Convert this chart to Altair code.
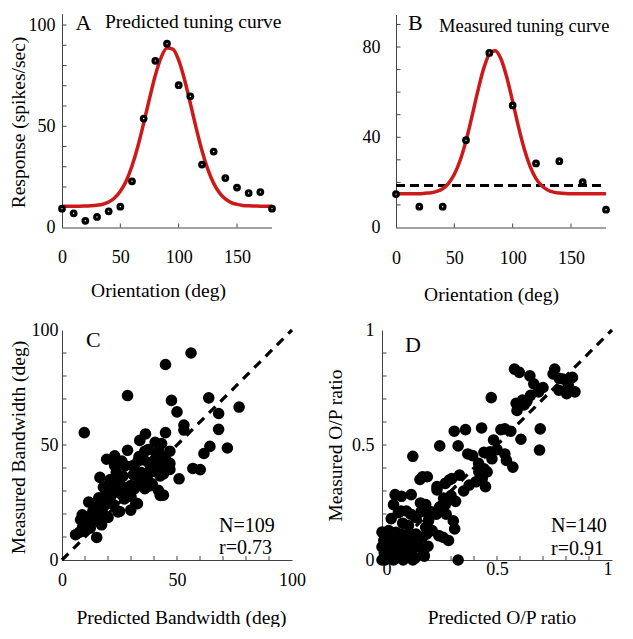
import altair as alt
import pandas as pd

FONT = "Liberation Serif"
RED = "#cc1a1a"
AXC = "#444444"

# ---------------- Panel A : predicted tuning curve ----------------
a_orient = [0, 10, 20, 30, 40, 50, 60, 70, 80, 90, 100, 110, 120, 130, 140, 150, 160, 170, 180]
a_resp = [9.3, 7.0, 3.3, 5.2, 8.0, 10.3, 22.8, 53.8, 82.3, 90.8, 70.3, 64.8, 31.1, 37.5, 24.4, 19.7, 17.0, 17.5, 9.3]
fit_orient = [0, 5, 10, 15, 20, 25, 30, 35, 40, 45, 50, 55, 60, 65, 70, 75, 80, 85, 90,
              95, 100, 105, 110, 115, 120, 125, 130, 135, 140, 145, 150, 155, 160, 165, 170, 175, 180]
a_fit = [10.5, 10.5, 10.5, 10.5, 10.6, 10.7, 11.0, 11.5, 12.6, 14.6, 17.9, 23.0, 30.4, 40.0, 51.5,
         63.7, 75.2, 84.0, 88.6, 88.1, 82.6, 73.1, 61.3, 49.1, 37.9, 28.7, 21.8, 17.1, 14.1, 12.3,
         11.4, 10.9, 10.7, 10.6, 10.5, 10.5, 10.5]

# ---------------- Panel B : measured tuning curve ----------------
b_orient = [0, 20, 40, 60, 80, 100, 120, 140, 160, 180]
b_resp = [14.8, 9.2, 9.2, 38.7, 77.4, 54.1, 28.4, 29.4, 20.1, 7.9]
b_fit = [15.0, 15.0, 15.0, 15.0, 15.0, 15.2, 15.4, 16.0, 17.2, 19.6, 23.6, 29.8, 38.4, 49.0, 60.2,
         70.2, 76.8, 78.4, 74.7, 66.5, 55.8, 44.6, 34.7, 27.0, 21.7, 18.5, 16.6, 15.7, 15.3, 15.1,
         15.0, 15.0, 15.0, 15.0, 15.0, 15.0, 15.0]
b_spont = 18.6

# ---------------- Panel C : bandwidth ----------------
c_pred = [56.1, 45.0, 28.5, 63.8, 47.6, 77.0, 50.0, 68.1, 53.0, 53.0, 68.1, 9.7, 45.0, 36.3, 33.8,
          40.5, 43.3, 28.5, 36.0, 46.9, 64.3, 71.9, 61.7, 56.9, 60.1, 50.9, 44.4, 43.4, 44.1, 22.9,
          33.5, 39.8, 22.9, 31.4, 35.6, 46.9, 38.4, 42.7, 46.9, 16.5, 20.0, 25.7, 31.4, 38.4, 42.7,
          32.8, 29.9, 24.3, 27.1, 18.6, 15.8, 13.0, 10.2, 17.2, 11.6, 5.9, 15.1, 8.1, 21.5, 23.6,
          24.6, 18.0, 29.9, 33.6, 39.2, 41.9, 44.1, 32.1, 25.0, 15.1, 16.5, 8.8, 12.3, 9.5, 30.7,
          19.4, 26.5, 34.5, 37.0, 40.0, 20.5, 22.5, 19.0, 14.0, 11.0, 13.5, 17.5, 26.0, 28.0, 30.0,
          36.0, 34.0, 24.0, 21.0, 27.5, 33.0, 38.0, 41.0, 45.5, 9.0, 7.5, 12.0, 16.0, 23.0, 31.0,
          37.5, 42.0, 26.0, 20.0]
c_meas = [90.0, 85.0, 71.5, 70.5, 69.4, 66.5, 64.4, 63.7, 58.7, 56.5, 56.8, 55.4, 55.4, 54.8, 52.0,
          51.2, 50.6, 47.7, 47.3, 47.3, 49.4, 48.7, 46.3, 39.8, 39.3, 35.3, 44.5, 41.0, 37.4, 45.3,
          45.0, 43.0, 41.0, 41.0, 43.5, 42.0, 39.4, 36.6, 39.4, 35.9, 32.3, 32.3, 30.9, 32.3, 28.1,
          24.5, 21.7, 20.9, 26.6, 23.8, 20.9, 18.1, 13.8, 15.3, 25.2, 11.0, 9.8, 17.5, 28.1, 38.1,
          33.1, 31.7, 32.4, 35.3, 33.1, 30.3, 28.2, 24.6, 21.1, 23.2, 19.6, 19.6, 13.9, 12.5, 41.0,
          43.8, 36.5, 38.0, 36.0, 38.5, 26.0, 24.0, 28.5, 17.0, 16.0, 21.5, 21.0, 28.5, 30.0, 27.5,
          31.0, 33.5, 35.5, 35.0, 41.0, 43.0, 42.0, 45.0, 43.0, 14.5, 12.0, 19.0, 27.0, 30.0, 37.0,
          48.0, 47.5, 43.0, 18.5]

# ---------------- Panel D : O/P ratio ----------------
d_pred = [0.576, 0.597, 0.643, 0.660, 0.681, 0.646, 0.611, 0.583, 0.587, 0.618, 0.751, 0.744, 0.786,
          0.828, 0.769, 0.803, 0.839, 0.475, 0.688, 0.685, 0.604, 0.534, 0.517, 0.433, 0.363, 0.314,
          0.251, 0.331, 0.485, 0.373, 0.394, 0.443, 0.478, 0.534, 0.541, 0.569, 0.443, 0.457, 0.421,
          0.436, 0.450, 0.379, 0.337, 0.303, 0.239, 0.197, 0.275, 0.408, 0.134, 0.176, 0.165, 0.057,
          0.085, 0.127, 0.050, 0.071, 0.106, 0.190, 0.148, 0.205, 0.239, 0.268, 0.275, 0.310, 0.316,
          0.289, 0.247, 0.218, 0.190, 0.176, 0.148, 0.134, 0.106, 0.331, 0.184, 0.142, 0.106, 0.078,
          0.050, 0.022, 0.000, 0.000, 0.029, 0.008, 0.043, 0.078, 0.000, 0.106, 0.148, 0.050, 0.092,
          0.134, 0.237, 0.279, 0.202, 0.125, 0.083, 0.265, 0.195, 0.153, 0.125, 0.181, 0.139, 0.097,
          0.055, 0.013, 0.034, 0.069, 0.027, 0.083, 0.320, 0.293, 0.355, 0.265, 0.167, 0.040, 0.010,
          0.060, 0.115, 0.160, 0.020, 0.070, 0.110, 0.030, 0.200, 0.215, 0.250, 0.300, 0.420, 0.470,
          0.500, 0.560, 0.630, 0.700, 0.770, 0.810, 0.090, 0.170, 0.040, 0.120]
d_meas = [0.830, 0.816, 0.801, 0.766, 0.731, 0.716, 0.695, 0.681, 0.650, 0.674, 0.830, 0.809, 0.787,
          0.794, 0.738, 0.723, 0.731, 0.706, 0.570, 0.478, 0.525, 0.570, 0.567, 0.574, 0.567, 0.560,
          0.496, 0.496, 0.522, 0.461, 0.454, 0.468, 0.440, 0.461, 0.433, 0.404, 0.397, 0.383, 0.383,
          0.354, 0.319, 0.326, 0.369, 0.354, 0.319, 0.362, 0.333, 0.340, 0.451, 0.362, 0.350, 0.284,
          0.277, 0.284, 0.241, 0.206, 0.213, 0.241, 0.184, 0.184, 0.305, 0.269, 0.241, 0.170, 0.135,
          0.085, 0.106, 0.128, 0.142, 0.099, 0.113, 0.085, 0.106, 0.000, 0.017, 0.007, 0.028, 0.057,
          0.043, 0.014, 0.000, 0.121, 0.128, 0.085, 0.085, 0.099, 0.057, 0.057, 0.057, 0.000, 0.000,
          0.000, 0.199, 0.199, 0.170, 0.199, 0.213, 0.099, 0.113, 0.099, 0.113, 0.028, 0.014, 0.028,
          0.021, 0.000, 0.085, 0.071, 0.043, 0.113, 0.255, 0.348, 0.300, 0.241, 0.248, 0.180, 0.030,
          0.120, 0.150, 0.060, 0.100, 0.010, 0.075, 0.065, 0.060, 0.210, 0.230, 0.280, 0.420, 0.470,
          0.480, 0.560, 0.690, 0.750, 0.790, 0.760, 0.160, 0.210, 0.010, 0.040]

# tick positions (inward minor ticks) and axis extents of the top panels
a_xticks = [50, 100, 150]
a_yticks = [10, 20, 30, 40, 50, 60, 70, 80, 90, 100]
b_yticks = [10, 20, 30, 40, 50, 60, 70, 80, 90]
c_ticks = [10, 20, 30, 40, 50, 60, 70, 80, 90]
d_ticks = [0.1, 0.2, 0.3, 0.4, 0.5, 0.6, 0.7, 0.8, 0.9]
a_yaxis_top = 105.4
b_yaxis_top = 94.2
orient_max = 180

W_TOP, H_TOP = 210, 219.5
W_C, H_C = 230, 230
W_D, H_D = 230, 230
TICK = 4
LBL = 18      # tick label font size
TTL = 19.5    # axis title font size


def label(text, x, y, size):
    return alt.Chart(pd.DataFrame({"t": [text]})).mark_text(
        font=FONT, fontSize=size, align="left", baseline="alphabetic", color="black"
    ).encode(x=alt.value(x), y=alt.value(y), text="t:N")


def xticks(vals, X, h):
    return alt.Chart(pd.DataFrame({"x": vals})).mark_rule(color=AXC, strokeWidth=1).encode(
        x=X, y=alt.value(h), y2=alt.value(h - TICK))


def yticks(vals, Y):
    return alt.Chart(pd.DataFrame({"y": vals})).mark_rule(color=AXC, strokeWidth=1).encode(
        y=Y, x=alt.value(0.5), x2=alt.value(TICK + 0.5))


def axis_lines(X, Y, xmax, ymax, h):
    xl = alt.Chart(pd.DataFrame({"x": [0], "x2": [xmax]})).mark_rule(color=AXC, strokeWidth=1).encode(
        x=X, x2="x2:Q", y=alt.value(h + 0.5))
    yl = alt.Chart(pd.DataFrame({"y": [0], "y2": [ymax]})).mark_rule(color=AXC, strokeWidth=1).encode(
        y=Y, y2="y2:Q", x=alt.value(0.5))
    return [xl, yl]


# ---- A ----
xA = alt.X("x:Q", scale=alt.Scale(domain=[0, orient_max], nice=False, zero=False),
           axis=alt.Axis(values=[0, 50, 100, 150], title="Orientation (deg)", domain=False,
                         labelPadding=21, titlePadding=15, titleX=96))
yA = alt.Y("y:Q", scale=alt.Scale(domain=[0, H_TOP / 2.025], nice=False),
           axis=alt.Axis(values=[0, 50, 100], title="Response (spikes/sec)", domain=False,
                         labelPadding=7, titlePadding=0, titleY=114))
dfA = pd.DataFrame({"x": a_orient, "y": a_resp})
dfAf = pd.DataFrame({"x": fit_orient, "y": a_fit})
panelA = alt.layer(
    *axis_lines(xA, yA, orient_max, a_yaxis_top, H_TOP),
    xticks(a_xticks, xA, H_TOP),
    yticks(a_yticks, yA),
    alt.Chart(dfAf).mark_line(color=RED, strokeWidth=3.5, interpolate="monotone").encode(x=xA, y=yA),
    alt.Chart(dfA).mark_circle(color="black", size=60, opacity=1).encode(x=xA, y=yA),
    alt.Chart(dfA).mark_circle(color="white", size=2, opacity=1).encode(x=xA, y=yA),
    label("A", 13.5, 22, 22),
    label("Predicted tuning curve", 43, 20, 19.5),
).properties(width=W_TOP, height=H_TOP)

# ---- B ----
xB = alt.X("x:Q", scale=alt.Scale(domain=[0, orient_max], nice=False, zero=False),
           axis=alt.Axis(values=[0, 50, 100, 150], title="Orientation (deg)", domain=False,
                         labelPadding=22, titlePadding=18, titleX=95))
yB = alt.Y("y:Q", scale=alt.Scale(domain=[0, H_TOP / 2.256], nice=False),
           axis=alt.Axis(values=[0, 40, 80], title=None, labelPadding=16, domain=False))
dfB = pd.DataFrame({"x": b_orient, "y": b_resp})
dfBf = pd.DataFrame({"x": fit_orient, "y": b_fit})
dfBs = pd.DataFrame({"x": [0, orient_max], "y": [b_spont, b_spont]})
panelB = alt.layer(
    *axis_lines(xB, yB, orient_max, b_yaxis_top, H_TOP),
    xticks(a_xticks, xB, H_TOP),
    yticks(b_yticks, yB),
    alt.Chart(dfBs).mark_line(color="black", strokeWidth=3, strokeDash=[9, 5]).encode(x=xB, y=yB),
    alt.Chart(dfBf).mark_line(color=RED, strokeWidth=3.5, interpolate="monotone").encode(x=xB, y=yB),
    alt.Chart(dfB).mark_circle(color="black", size=60, opacity=1).encode(x=xB, y=yB),
    alt.Chart(dfB).mark_circle(color="white", size=2, opacity=1).encode(x=xB, y=yB),
    label("B", 12, 22, 22),
    label("Measured tuning curve", 43, 23.7, 18.5),
).properties(width=W_TOP, height=H_TOP)

# ---- C ----
xC = alt.X("x:Q", scale=alt.Scale(domain=[0, 100], nice=False),
           axis=alt.Axis(values=[0, 50, 100], title="Predicted Bandwidth (deg)",
                         labelPadding=11, titlePadding=19, titleX=119))
yC = alt.Y("y:Q", scale=alt.Scale(domain=[0, 100], nice=False),
           axis=alt.Axis(values=[0, 50, 100], title="Measured Bandwidth (deg)",
                         labelPadding=4, titlePadding=3, titleY=117))
dfC = pd.DataFrame({"x": c_pred, "y": c_meas})
dfDiagC = pd.DataFrame({"x": [0, 100], "y": [0, 100]})
panelC = alt.layer(
    xticks(c_ticks, xC, H_C),
    yticks(c_ticks, yC),
    alt.Chart(dfDiagC).mark_line(color="black", strokeWidth=3.2, strokeDash=[9, 7]).encode(x=xC, y=yC),
    alt.Chart(dfC).mark_circle(color="black", size=135, opacity=1).encode(x=xC, y=yC),
    label("C", 24, 17, 22),
    label("N=109", 157, 201.5, 20),
    label("r=0.73", 157, 223.5, 20),
).properties(width=W_C, height=H_C)

# ---- D ----
xD = alt.X("x:Q", scale=alt.Scale(domain=[0, 1], nice=False),
           axis=alt.Axis(values=[0, 0.5, 1], format="~g", title="Predicted O/P ratio",
                         labelPadding=0, titlePadding=30, labelFlush=True, titleX=119.5))
yD = alt.Y("y:Q", scale=alt.Scale(domain=[0, 1], nice=False),
           axis=alt.Axis(values=[0, 0.5, 1], format="~g", title="Measured O/P ratio",
                         labelPadding=8, titlePadding=6))
dfD = pd.DataFrame({"x": d_pred, "y": d_meas})
dfDiagD = pd.DataFrame({"x": [0, 1], "y": [0, 1]})
panelD = alt.layer(
    xticks(d_ticks, xD, H_D),
    yticks(d_ticks, yD),
    alt.Chart(dfDiagD).mark_line(color="black", strokeWidth=3.2, strokeDash=[9, 7]).encode(x=xD, y=yD),
    alt.Chart(dfD).mark_circle(color="black", size=135, opacity=1).encode(x=xD, y=yD),
    label("D", 23, 22, 22),
    label("N=140", 169, 201.5, 20),
    label("r=0.91", 169, 224.5, 20),
).properties(width=W_D, height=H_D)

top = alt.hconcat(panelA, panelB, spacing=124, bounds="flush")
bottom = alt.hconcat(panelC, panelD, spacing=90, bounds="flush")

chart = alt.vconcat(top, bottom, spacing=17, bounds="full").properties(
    padding=0,
    background="white",
).configure_view(stroke=None).configure_axis(
    grid=False,
    ticks=False,
    tickSize=0,
    domainColor=AXC,
    domainWidth=1,
    labelFont=FONT,
    labelFontSize=LBL,
    labelColor="black",
    labelFlush=False,
    labelOverlap=False,
    titleFont=FONT,
    titleFontSize=TTL,
    titleFontWeight="normal",
    titleColor="black",
)

chart.save("out.html", embed_options={"renderer": "svg", "actions": False})
